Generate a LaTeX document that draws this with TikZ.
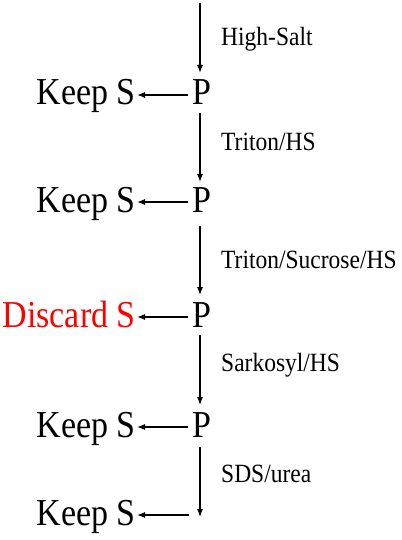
\documentclass[tikz,border=0pt]{standalone}
\usepackage{fontspec}
\setmainfont{Liberation Serif}
\usetikzlibrary{arrows.meta}
\newcommand{\tallbig}[1]{\scalebox{1}[1.12]{\fontsize{34}{38}\selectfont #1}}
\newcommand{\tallsmall}[1]{\scalebox{1}[1.12]{\fontsize{23.5}{27}\selectfont #1}}
\tikzset{
  pellet/.style={inner xsep=4pt, inner ysep=0pt, text height=25pt, text depth=5pt},
  super/.style={inner xsep=1pt, inner ysep=0pt, text height=25pt, text depth=5pt, anchor=east},
  cond/.style={inner sep=0pt, anchor=base west},
  flow/.style={line width=1.1pt, -{Latex[length=8pt,width=6pt]}},
}
\begin{document}
\begin{tikzpicture}[x=1pt,y=-1pt]
  \useasboundingbox (0,0) rectangle (401,540);
  % pellets
  \node[pellet] (p1) at (202,95)  {\tallbig{P}};
  \node[pellet] (p2) at (202,202) {\tallbig{P}};
  \node[pellet] (p3) at (202,317) {\tallbig{P}};
  \node[pellet] (p4) at (202,427) {\tallbig{P}};
  \coordinate (top) at (200,3);
  \coordinate (end) at (200,517);
  \coordinate (endl) at (189,515);
  % supernatants
  \node[super] (s1) at (137,95)  {\tallbig{Keep S}};
  \node[super] (s2) at (137,202) {\tallbig{Keep S}};
  \node[super, text=red] (s3) at (137,317) {\tallbig{Discard S}};
  \node[super] (s4) at (137,427) {\tallbig{Keep S}};
  \node[super] (s5) at (137,515) {\tallbig{Keep S}};
  % extraction conditions
  \node[cond] (c1) at (221,46)  {\tallsmall{High-Salt}};
  \node[cond] (c2) at (221,150) {\tallsmall{Triton/HS}};
  \node[cond] (c3) at (221,268) {\tallsmall{Triton/Sucrose/HS}};
  \node[cond] (c4) at (221,371) {\tallsmall{Sarkosyl/HS}};
  \node[cond] (c5) at (221,482) {\tallsmall{SDS/urea}};
  % vertical steps
  \draw[flow] (top) -- (200,73);
  \draw[flow] (200,113) -- (200,182);
  \draw[flow] (200,226) -- (200,295);
  \draw[flow] (200,335) -- (200,405);
  \draw[flow] (200,447) -- (end);
  % horizontal steps
  \draw[flow] (p1.west) -- (s1.east);
  \draw[flow] (p2.west) -- (s2.east);
  \draw[flow] (p3.west) -- (s3.east);
  \draw[flow] (p4.west) -- (s4.east);
  \draw[flow] (endl) -- (s5.east);
\end{tikzpicture}
\end{document}
